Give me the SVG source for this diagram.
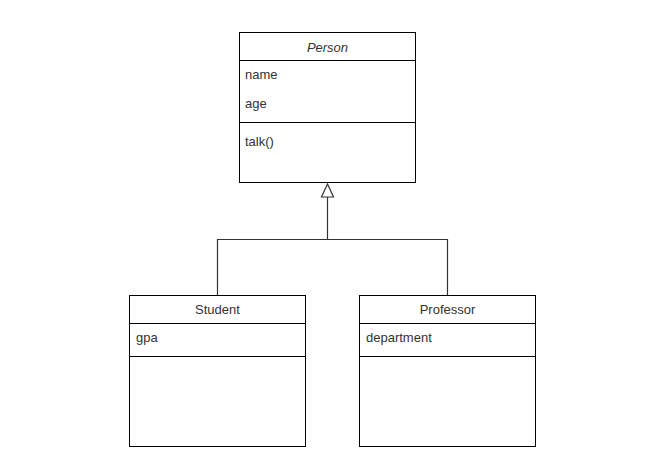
<svg xmlns="http://www.w3.org/2000/svg" width="656" height="457" viewBox="0 0 656 457">
  <style>
    .box { fill: #ffffff; stroke: #000000; stroke-width: 1; }
    .div { stroke: #000000; stroke-width: 1; fill: none; }
    .txt { font-family: "Liberation Sans", Arial, sans-serif; font-size: 13px; fill: #333333; }
    .title { text-anchor: middle; }
    .edge { fill: none; stroke: #333333; stroke-width: 1.2; }
    .head { fill: #ffffff; stroke: #333333; stroke-width: 1.2; }
  </style>
  <rect width="656" height="457" fill="#ffffff"/>

  <!-- inheritance connector -->
  <g id="connectors">
    <path class="edge" d="M217.5 295 V239.5 H447.5 V295"/>
    <path class="edge" d="M327.5 239.5 V197"/>
    <polygon class="head" points="327.5,184 321.5,197 333.5,197"/>
  </g>

  <!-- abstract base class -->
  <g id="person">
    <rect class="box" x="239.5" y="32.5" width="176" height="150"/>
    <line class="div" x1="239.5" y1="60.5" x2="415.5" y2="60.5"/>
    <line class="div" x1="239.5" y1="122.5" x2="415.5" y2="122.5"/>
    <text class="txt title" x="327.5" y="52" font-style="italic">Person</text>
    <text class="txt" x="245" y="79">name</text>
    <text class="txt" x="245" y="108">age</text>
    <text class="txt" x="245" y="146">talk()</text>
  </g>

  <g id="student">
    <rect class="box" x="129.5" y="295.5" width="176" height="151"/>
    <line class="div" x1="129.5" y1="323.5" x2="305.5" y2="323.5"/>
    <line class="div" x1="129.5" y1="356.5" x2="305.5" y2="356.5"/>
    <text class="txt title" x="217.5" y="314">Student</text>
    <text class="txt" x="136" y="342">gpa</text>
  </g>

  <g id="professor">
    <rect class="box" x="359.5" y="295.5" width="176" height="151"/>
    <line class="div" x1="359.5" y1="323.5" x2="535.5" y2="323.5"/>
    <line class="div" x1="359.5" y1="356.5" x2="535.5" y2="356.5"/>
    <text class="txt title" x="447.5" y="314">Professor</text>
    <text class="txt" x="366" y="342">department</text>
  </g>
</svg>
